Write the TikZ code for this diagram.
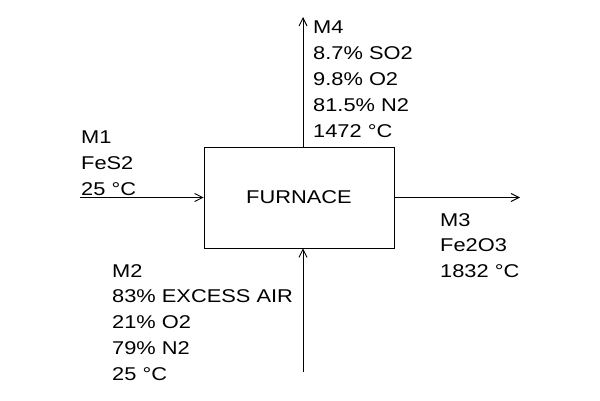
\documentclass[tikz,border=0pt]{standalone}
\usepackage{fontspec}
\setmainfont{Liberation Sans}[FakeStretch=1.18]
\usepackage{tikz}
\usetikzlibrary{arrows.meta}

\tikzset{
  stream/.style={line width=0.9pt,-{Straight Barb[length=8pt,width=8pt]}},
  streamtext/.style={anchor=north west,inner sep=0pt,align=left,
    font=\fontsize{18.5}{25.8}\selectfont},
  unitbox/.style={draw,line width=0.9pt,minimum width=190pt,
    minimum height=101pt,inner sep=0pt,font=\fontsize{18.5}{22}\selectfont}
}

\begin{document}
\begin{tikzpicture}[x=1pt,y=1pt]
\useasboundingbox (0,0) rectangle (600,400);
		\coordinate (F) at (299,202.5);
		\coordinate (A) at (80,202.5);
		\coordinate (B) at (303,28);
		\coordinate (C) at (520,202.5);
		\coordinate (D) at (303,383);
		\draw (F) node[unitbox] (furnace) {FURNACE};
		\draw[stream] (A) -- (furnace.west);
		\draw[stream] (B) -- (B |- furnace.south);
		\draw[stream] (furnace.east) -- (C);
		\draw[stream] (D |- furnace.north) -- (D);
		\coordinate (T1) at (81,269);
		\coordinate (T2) at (112,136);
		\coordinate (T3) at (440,187);
		\coordinate (T4) at (313,379);
		\draw (T1) node[streamtext] (m1) {M1\\FeS2\\25 °C};
		\draw (T2) node[streamtext] (m2) {M2\\83\% EXCESS AIR\\21\% O2\\79\% N2\\25 °C};
		\draw (T3) node[streamtext] (m3) {M3\\Fe2O3\\1832 °C};
		\draw (T4) node[streamtext] (m4) {M4\\8.7\% SO2\\9.8\% O2\\81.5\% N2\\1472 °C};
\end{tikzpicture}
\end{document}
